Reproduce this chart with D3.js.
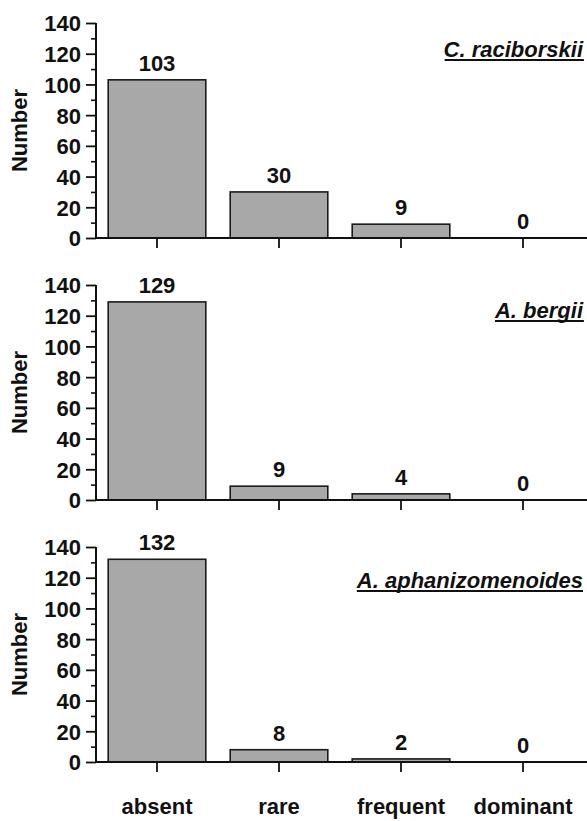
<!DOCTYPE html>
<html>
<head>
<meta charset="utf-8">
<script src="https://cdn.jsdelivr.net/npm/d3@7"></script>
<style>
  html, body { margin: 0; padding: 0; background: #fff; }
  svg text { font-family: "Liberation Sans", Arial, sans-serif; font-weight: bold; }
</style>
</head>
<body>
<svg id="chart" width="587" height="821"></svg>
<script>
// Abundance classes along the shared x axis
const categories = ["absent", "rare", "frequent", "dominant"];

// Species shown in each panel, top to bottom
const species = ["C. raciborskii", "A. bergii", "A. aphanizomenoides"];

// Number of samples per abundance class
const craciborskii = [103, 30, 9, 0];
const abergii = [129, 9, 4, 0];
const aaphanizomenoides = [132, 8, 2, 0];
const seriesValues = [craciborskii, abergii, aaphanizomenoides];

// Y axis ticks
const majorTicks = [0, 20, 40, 60, 80, 100, 120, 140];
const minorTicks = [10, 30, 50, 70, 90, 110, 130];
const yLabel = "Number";

const svg = d3.select("#chart");
const fontSize = 22;

const left = 96, right = 584;
const panelHeight = 215, panelStep = 262, firstTop = 23;
const titleOffset = [34, 33, 41];

const x = d3.scaleBand()
  .domain(categories)
  .range([left, right])
  .paddingInner(0.2)
  .paddingOuter(0.1);

species.forEach((name, i) => {
  const top = firstTop + i * panelStep;
  const bottom = top + panelHeight;
  const values = seriesValues[i];

  const y = d3.scaleLinear().domain([0, 140]).range([bottom, top]);

  const g = svg.append("g");

  // Bars
  g.selectAll("rect.bar")
    .data(values)
    .join("rect")
    .attr("class", "bar")
    .attr("x", (d, j) => x(categories[j]))
    .attr("width", x.bandwidth())
    .attr("y", d => y(d))
    .attr("height", d => y(0) - y(d))
    .attr("fill", "#a8a8a8")
    .attr("stroke", "#1a1a1a")
    .attr("stroke-width", 1.6);

  // Value labels above bars
  g.selectAll("text.val")
    .data(values)
    .join("text")
    .attr("class", "val")
    .attr("x", (d, j) => x(categories[j]) + x.bandwidth() / 2)
    .attr("y", d => y(d) - 9)
    .attr("text-anchor", "middle")
    .attr("font-size", fontSize)
    .attr("fill", "#111")
    .text(d => d);

  // Minor y ticks
  const minorAxis = d3.axisLeft(y).tickValues(minorTicks).tickSize(5).tickFormat("");
  g.append("g")
    .attr("transform", `translate(${left},0)`)
    .call(minorAxis)
    .call(a => a.select(".domain").remove())
    .call(a => a.selectAll("line").attr("stroke", "#111").attr("stroke-width", 1.6));

  // Major y ticks with labels
  const yAxis = d3.axisLeft(y).tickValues(majorTicks).tickSize(10).tickPadding(5);
  g.append("g")
    .attr("transform", `translate(${left},0)`)
    .call(yAxis)
    .call(a => a.select(".domain").attr("stroke", "#111").attr("stroke-width", 2).attr("d", `M0,${top}V${bottom + 1}`))
    .call(a => a.selectAll("line").attr("stroke", "#111").attr("stroke-width", 1.8))
    .call(a => a.selectAll("text")
      .attr("font-size", fontSize)
      .attr("font-family", "Liberation Sans, Arial, sans-serif")
      .attr("font-weight", "bold")
      .attr("fill", "#111")
      .attr("dy", "0.36em"));

  // X axis: baseline and downward ticks at each class
  const xAxis = d3.axisBottom(x).tickSize(10).tickFormat(i === species.length - 1 ? d => d : "");
  const xg = g.append("g")
    .attr("transform", `translate(0,${bottom})`)
    .call(xAxis);
  xg.select(".domain")
    .attr("stroke", "#111")
    .attr("stroke-width", 2.2)
    .attr("d", `M${left},0H${right + 3}`);
  xg.selectAll("line").attr("stroke", "#111").attr("stroke-width", 1.8);
  xg.selectAll("text")
    .attr("font-size", fontSize)
    .attr("font-family", "Liberation Sans, Arial, sans-serif")
    .attr("font-weight", "bold")
    .attr("fill", "#111")
    .attr("y", 0)
    .attr("dy", 0)
    .attr("transform", "translate(0,52)");

  // Y axis title
  g.append("text")
    .attr("transform", `translate(${27},${(top + bottom) / 2}) rotate(-90)`)
    .attr("text-anchor", "middle")
    .attr("font-size", fontSize)
    .attr("fill", "#111")
    .text(yLabel);

  // Species title, italic and underlined, right aligned
  const title = g.append("text")
    .attr("x", right - 1)
    .attr("y", top + titleOffset[i])
    .attr("text-anchor", "end")
    .attr("font-size", fontSize)
    .attr("font-style", "italic")
    .attr("fill", "#111")
    .text(name);
  const bb = title.node().getBBox();
  g.append("line")
    .attr("x1", bb.x + 1)
    .attr("x2", bb.x + bb.width)
    .attr("y1", top + titleOffset[i] + 3)
    .attr("y2", top + titleOffset[i] + 3)
    .attr("stroke", "#111")
    .attr("stroke-width", 2);
});
</script>
</body>
</html>
